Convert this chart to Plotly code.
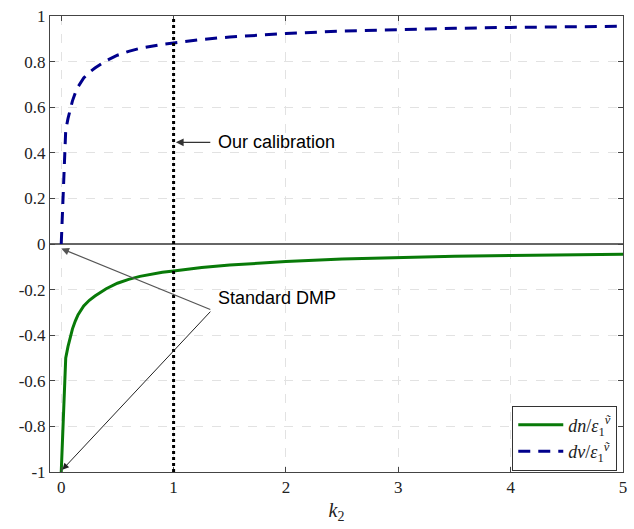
import plotly.graph_objects as go

k2 = [0, 0.04, 0.06, 0.08, 0.1, 0.125, 0.15, 0.2, 0.25, 0.3, 0.35, 0.4, 0.5, 0.6, 0.7, 0.8, 0.9,
      1.0, 1.25, 1.5, 1.75, 2.0, 2.5, 3.0, 3.5, 4.0, 4.5, 5.0]
dn = [-1.0, -0.50, -0.45, -0.405, -0.372, -0.338, -0.31, -0.272, -0.247, -0.228, -0.212, -0.196,
      -0.172, -0.155, -0.142, -0.132, -0.124, -0.118, -0.103, -0.092, -0.084, -0.077, -0.066,
      -0.059, -0.054, -0.050, -0.047, -0.045]
dv = [0.0, 0.50, 0.55, 0.595, 0.628, 0.662, 0.69, 0.728, 0.753, 0.772, 0.788, 0.804,
      0.828, 0.845, 0.858, 0.868, 0.876, 0.882, 0.897, 0.908, 0.916, 0.923, 0.934,
      0.941, 0.946, 0.950, 0.953, 0.955]
calibration_k = 1.0
y_ticks = [-1, -0.8, -0.6, -0.4, -0.2, 0, 0.2, 0.4, 0.6, 0.8, 1]
x_ticks = [0, 1, 2, 3, 4, 5]

serif = "'Liberation Serif', 'DejaVu Serif', serif"
sans = "'Liberation Sans', Arial, sans-serif"

fig = go.Figure()
fig.add_trace(go.Scatter(x=k2, y=dn, mode="lines",
                         line=dict(color="#087a08", width=3),
                         name="<i>dn</i>/<i>ε</i><sub>1</sub><sup><i>ṽ</i></sup>"))
fig.add_trace(go.Scatter(x=k2, y=dv, mode="lines",
                         line=dict(color="#00008c", width=3, dash="12px,8px"),
                         name="<i>dv</i>/<i>ε</i><sub>1</sub><sup><i>ṽ</i></sup>"))

fig.add_shape(type="line", xref="x", yref="y", x0=calibration_k, x1=calibration_k, y0=-1, y1=1,
              line=dict(color="black", width=3, dash="dot"), layer="above")

# Annotations
fig.add_annotation(x=1.02, y=0.446, ax=1.34, ay=0.446, axref="x", ayref="y", xref="x", yref="y",
                   text="", showarrow=True, arrowhead=2, arrowsize=1.3, arrowwidth=1.2, arrowcolor="#333")
fig.add_annotation(x=1.38, y=0.446, xref="x", yref="y", text="Our calibration", showarrow=False,
                   xanchor="left", yanchor="middle", font=dict(family=sans, size=18, color="black"))
fig.add_annotation(x=0.0, y=-0.02, ax=1.34, ay=-0.29, axref="x", ayref="y", xref="x", yref="y",
                   text="", showarrow=True, arrowhead=2, arrowsize=1.3, arrowwidth=1.2, arrowcolor="#555")
fig.add_annotation(x=0.01, y=-0.99, ax=1.34, ay=-0.29, axref="x", ayref="y", xref="x", yref="y",
                   text="", showarrow=True, arrowhead=2, arrowsize=1.3, arrowwidth=1, arrowcolor="#222")
fig.add_annotation(x=1.38, y=-0.236, xref="x", yref="y", text="Standard DMP", showarrow=False,
                   xanchor="left", yanchor="middle", font=dict(family=sans, size=18, color="black"))

axis_common = dict(showline=True, linecolor="#444", linewidth=1, mirror="ticks",
                   ticks="inside", ticklen=5, tickcolor="#444",
                   showgrid=True, gridcolor="#e2e2e2", griddash="dash", gridwidth=1,
                   tickfont=dict(family=serif, size=17, color="#222"))

fig.update_xaxes(range=[-0.1, 5], tickvals=x_ticks, zeroline=False,
                 title=dict(text="<i>k</i><sub>2</sub>", font=dict(family=serif, size=20, color="#222"),
                            standoff=6),
                 **axis_common)
fig.update_yaxes(range=[-1, 1], tickvals=y_ticks, ticktext=[("%g" % v) for v in y_ticks],
                 zeroline=True, zerolinecolor="#666", zerolinewidth=1.5,
                 **axis_common)

fig.update_layout(
    width=634, height=529,
    margin=dict(l=50, r=7, t=15, b=57),
    plot_bgcolor="white", paper_bgcolor="white",
    showlegend=True,
    legend=dict(x=0.99, y=0.003, xanchor="right", yanchor="bottom",
                bgcolor="white", bordercolor="#333", borderwidth=1,
                font=dict(family=serif, size=18, color="#222"),
                itemwidth=45, tracegroupgap=0),
)

fig.write_html("out.html")
